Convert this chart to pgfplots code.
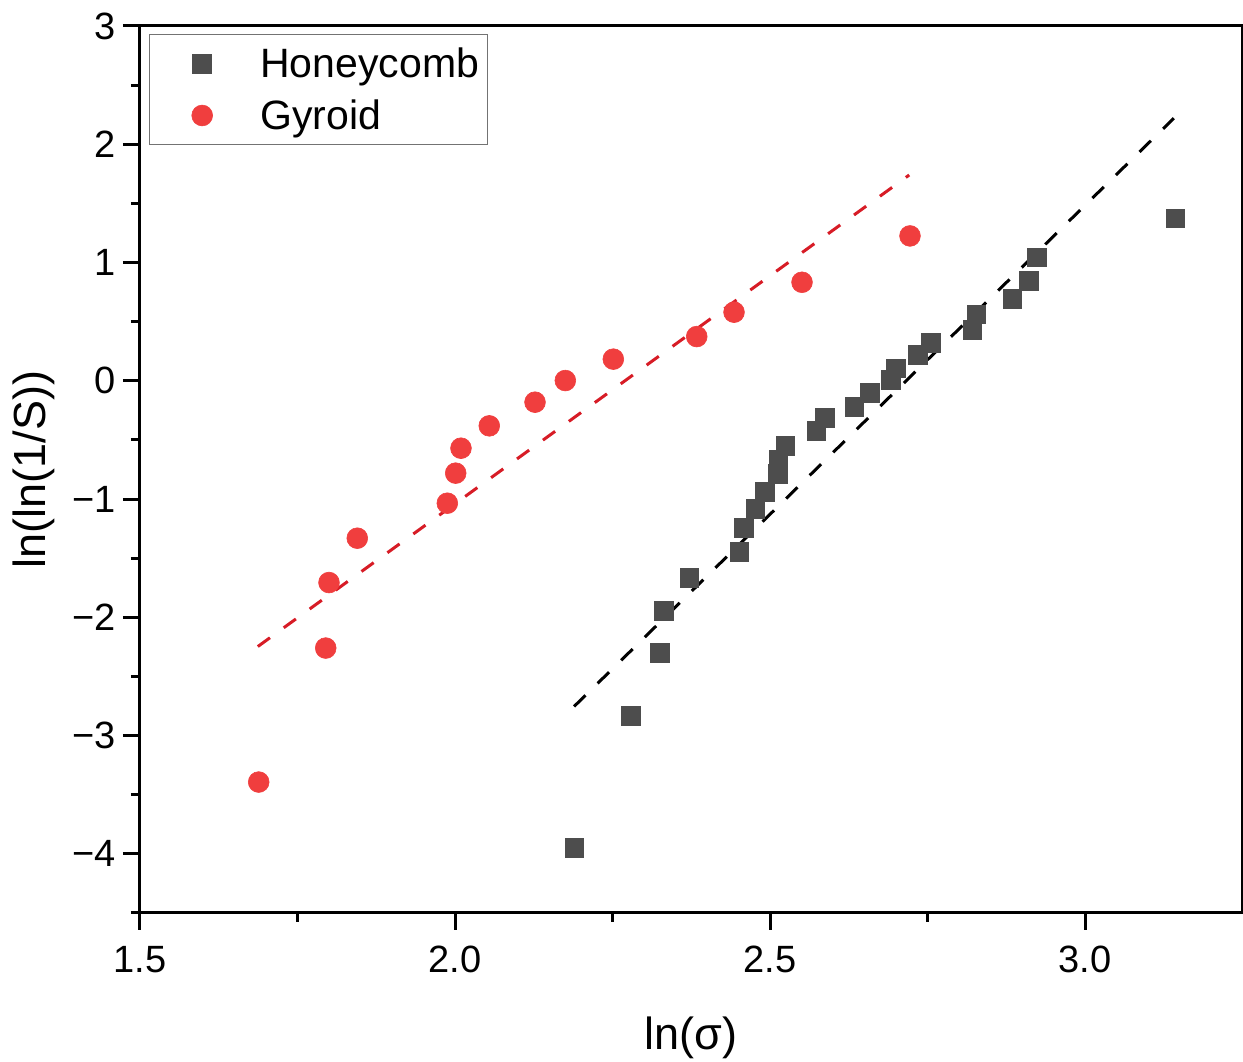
\documentclass[border=0pt]{standalone}
\usepackage{pgfplots}
\pgfplotsset{compat=1.18}
\usepackage{fontspec}
\setmainfont{Liberation Sans}
\definecolor{hc}{RGB}{77,77,77}
\definecolor{gy}{RGB}{240,62,62}
\definecolor{fitred}{RGB}{215,28,38}
\pgfplotsset{myleg/.style={legend image code/.code={%
  \path (0pt,0.2pt) (52pt,0.2pt);
  \draw[##1, mark repeat=2, mark phase=2] plot coordinates {(0pt,0.2pt) (26pt,0.2pt) (52pt,0.2pt)};}}}
\begin{document}
\begin{tikzpicture}
\begin{axis}[
  scale only axis,
  width=551.25pt, height=443.5pt,
  xmin=1.5, xmax=3.25, ymin=-4.5, ymax=3,
  xtick={1.5,2,2.5,3}, xticklabels={1.5,2.0,2.5,3.0},
  ytick={-4,-3,-2,-1,0,1,2,3}, yticklabels={−4,−3,−2,−1,0,1,2,3},
  minor xtick={1.75,2.25,2.75},
  minor ytick={-4.5,-3.5,-2.5,-1.5,-0.5,0.5,1.5,2.5},
  xtick pos=bottom, ytick pos=left,
  tick align=outside,
  major tick length=8.5pt, minor tick length=4.5pt,
  tick style={black, line width=1.5pt},
  axis line style={line width=1.5pt},
  tick label style={font=\fontsize{19}{22}\selectfont},
  xticklabel style={yshift=-4.7pt},
  label style={font=\fontsize{22.5}{27}\selectfont},
  xlabel={ln(σ)}, ylabel={ln(ln(1/S))},
  xlabel style={at={(axis description cs:0.5,0)}, anchor=base, yshift=-68.5pt},
  ylabel style={at={(axis description cs:-0.0965,0.5)}, anchor=center},
  legend cell align=left,
  legend style={at={(0,1)}, anchor=north west, xshift=4.5pt, yshift=-4.15pt,
    draw=black!55, line width=0.6pt, inner xsep=0pt, inner ysep=4.3pt,
    font=\fontsize{20.5}{24}\selectfont, row sep=5.6pt, column sep=2.8pt,
    nodes={inner sep=0pt, text height=17pt, text depth=3.4pt}},
]
\addplot[only marks, mark=square*, mark size=4.7pt, color=hc,
  mark options={fill=hc, draw=hc, line width=0.3pt}, myleg] coordinates {
(2.1894,-3.951) (2.2789,-2.830) (2.3254,-2.303) (2.3317,-1.943) (2.3719,-1.669)
(2.4513,-1.444) (2.4583,-1.246) (2.4767,-1.083) (2.4921,-0.937) (2.5122,-0.787)
(2.5132,-0.669) (2.5243,-0.548) (2.5735,-0.423) (2.5873,-0.316) (2.6338,-0.218)
(2.6587,-0.100) (2.6916,0.008) (2.6995,0.106) (2.7344,0.219) (2.7556,0.323)
(2.8211,0.430) (2.8275,0.563) (2.8846,0.692) (2.9111,0.847) (2.9233,1.045)
(3.1433,1.374)
};
\addlegendentry{Honeycomb\hspace*{4.2pt}}
\addplot[only marks, mark=*, mark size=5.2pt, color=gy,
  mark options={fill=gy, draw=gy, line width=0.3pt}, myleg] coordinates {
(1.6884,-3.393) (1.7948,-2.260) (1.8000,-1.706) (1.8449,-1.331) (1.9878,-1.035)
(2.0011,-0.781) (2.0095,-0.570) (2.0544,-0.381) (2.1270,-0.181) (2.1751,0.002)
(2.2513,0.183) (2.3837,0.374) (2.4429,0.580) (2.5508,0.833) (2.7222,1.225)
};
\addlegendentry{Gyroid}
\addplot[forget plot, no marks, color=black, line width=1.5pt, dash pattern=on 8pt off 8.5pt] coordinates {
(2.189,-2.754) (3.141,2.220)
};
\addplot[forget plot, no marks, color=fitred, line width=1.5pt, dash pattern=on 7.5pt off 8.5pt] coordinates {
(1.687,-2.247) (2.721,1.740)
};
\end{axis}
\pgfresetboundingbox
\path[use as bounding box] ([xshift=-70pt,yshift=-74.5pt]current axis.south west) rectangle ([xshift=0.25pt,yshift=13pt]current axis.north east);
\end{tikzpicture}
\end{document}
